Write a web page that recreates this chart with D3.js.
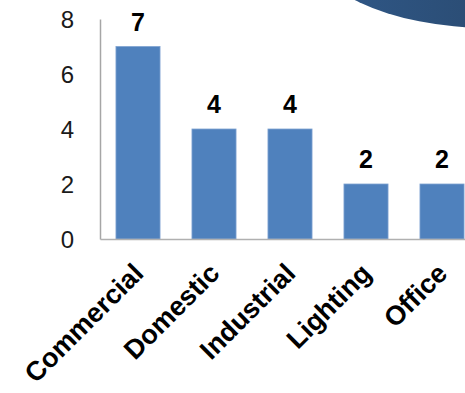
<!DOCTYPE html>
<html>
<head>
<meta charset="utf-8">
<script src="https://cdn.jsdelivr.net/npm/d3@7"></script>
<style>
  html, body { margin: 0; padding: 0; background: #fff; overflow: hidden; }
  svg { display: block; font-family: Arial, "Liberation Sans", sans-serif; }
</style>
</head>
<body>
<svg width="465" height="393"></svg>
<script>
'use strict';

var categories = ['Commercial', 'Domestic', 'Industrial', 'Lighting', 'Office'];
var counts = [7, 4, 4, 2, 2];
var yTicks = [0, 2, 4, 6, 8];

var svg = d3.select('svg');

// decorative swoosh in the top right corner
var grad = svg.append('defs').append('linearGradient')
    .attr('id', 'swoosh')
    .attr('x1', '0%').attr('x2', '100%');
grad.append('stop').attr('offset', '0%').attr('stop-color', '#30598a');
grad.append('stop').attr('offset', '100%').attr('stop-color', '#253f5c');

svg.append('ellipse')
    .attr('cx', 490).attr('cy', -60)
    .attr('rx', 185).attr('ry', 88)
    .attr('fill', 'url(#swoosh)');

var x = d3.scaleBand()
    .domain(categories)
    .range([100, 480])
    .paddingInner(0.42)
    .paddingOuter(0.21);

var y = d3.scaleLinear()
    .domain([0, 8])
    .range([239, 19]);

// bars
svg.selectAll('rect.bar')
    .data(counts)
    .enter()
    .append('rect')
    .attr('class', 'bar')
    .attr('x', function(d, i) { return x(categories[i]); })
    .attr('y', function(d) { return y(d); })
    .attr('width', x.bandwidth())
    .attr('height', function(d) { return y(0) - y(d); })
    .attr('fill', '#4f81bd')
    .attr('stroke', '#7fa3d1')
    .attr('stroke-width', 0.8);

// value labels
svg.selectAll('text.value')
    .data(counts)
    .enter()
    .append('text')
    .attr('class', 'value')
    .attr('x', function(d, i) { return x(categories[i]) + x.bandwidth() / 2; })
    .attr('y', function(d) { return y(d) - 16; })
    .attr('text-anchor', 'middle')
    .attr('font-size', 25)
    .attr('font-weight', 'bold')
    .attr('fill', '#000')
    .text(function(d) { return d; });

// y axis
var axisY = d3.axisLeft(y)
    .tickValues(yTicks)
    .tickSize(0)
    .tickPadding(26);

var gy = svg.append('g')
    .attr('transform', 'translate(100,0)')
    .call(axisY);
gy.select('.domain').attr('stroke', '#a6a6a6').attr('stroke-width', 1.5);
gy.selectAll('text')
    .attr('font-size', 24)
    .attr('font-family', 'Arial, "Liberation Sans", sans-serif')
    .attr('fill', '#1a1a1a')
    .attr('dy', '0.36em');

// x axis
var axisX = d3.axisBottom(x)
    .tickSize(0)
    .tickSizeOuter(0);

var gx = svg.append('g')
    .attr('transform', 'translate(0,239)')
    .call(axisX);
gx.select('.domain').attr('stroke', '#b0b0b0').attr('stroke-width', 1.5);
gx.selectAll('text')
    .attr('font-size', 27)
    .attr('font-weight', 'bold')
    .attr('font-family', 'Arial, "Liberation Sans", sans-serif')
    .attr('fill', '#000')
    .attr('text-anchor', 'end')
    .attr('dy', 0)
    .attr('y', 0)
    .attr('transform', 'translate(7,36) rotate(-45)');
</script>
</body>
</html>
